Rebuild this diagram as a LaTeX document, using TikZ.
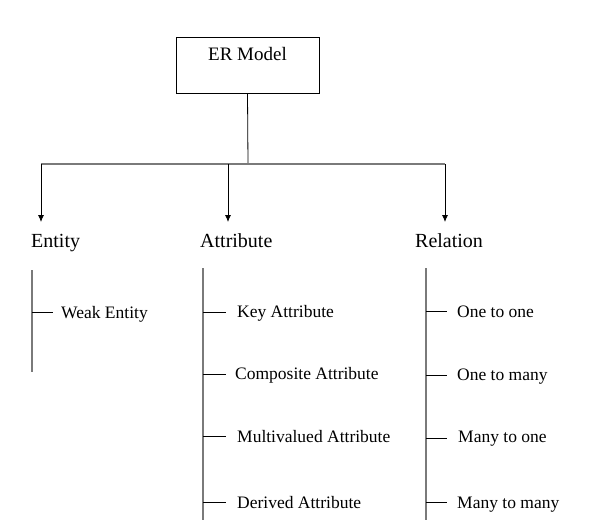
\documentclass[tikz,border=0pt]{standalone}
\usepackage{fontspec}
\setmainfont{Liberation Serif}
\usepackage{xcolor}
\usetikzlibrary{arrows.meta}
\definecolor{treec}{HTML}{7A7A7A}
\tikzset{
  rootbox/.style={draw, line width=0.8pt, anchor=north, inner sep=0pt, minimum width=143pt, text height=23pt, text depth=33pt, font=\fontsize{19}{23}\selectfont},
  head/.style={anchor=base west, inner sep=0pt, font=\fontsize{20}{24}\selectfont},
  leaf/.style={anchor=base west, inner sep=0pt, font=\fontsize{17.5}{21}\selectfont},
  stem/.style={draw=black, line width=0.8pt},
  trunk/.style={draw=treec, line width=1.1pt},
  spine/.style={draw=treec, line width=1.3pt},
  twig/.style={draw=black, line width=0.8pt},
  down/.style={draw=black, line width=0.8pt, -{Latex[length=7pt,width=6pt]}},
}

\begin{document}
\begin{tikzpicture}[x=1pt,y=-1pt]
\useasboundingbox (0,0) rectangle (604,520);
\node[rootbox] (er) at (247.5,37) {ER Model};
\coordinate (j0) at (248,164);
\coordinate (jent) at (41,164);
\coordinate (jatt) at (228,164);
\coordinate (jrel) at (445,164);
\coordinate (tent) at (41,222);
\coordinate (tatt) at (228,222);
\coordinate (trel) at (445,222);
\draw[stem] (er.south) -- (j0);
\draw[trunk] (jent) -- (jrel);
\draw[down] (jent) -- (tent);
\draw[down] (jatt) -- (tatt);
\draw[down] (jrel) -- (trel);
\node[head] (entity) at (31,247) {Entity};
\node[head] (attribute) at (200,247) {Attribute};
\node[head] (relation) at (415,247) {Relation};
% entity branch
\coordinate (sent) at (32,270);
\coordinate (eent) at (32,372);
\draw[spine] (sent) -- (eent);
\node[leaf] (weak) at (61,318) {Weak Entity};
\coordinate (kweak) at (32,312);
\draw[twig] (kweak) -- ++(21,0);
% attribute branch
\coordinate (satt) at (203,268);
\coordinate (eatt) at (203,520);
\draw[spine] (satt) -- (eatt);
\node[leaf] (keyatt) at (237,317) {Key Attribute};
\node[leaf] (compatt) at (235,379) {Composite Attribute};
\node[leaf] (multatt) at (237,442) {Multivalued Attribute};
\node[leaf] (deratt) at (237,508) {Derived Attribute};
\coordinate (kkey) at (203,312);
\coordinate (kcomp) at (203,374);
\coordinate (kmult) at (203,436);
\coordinate (kder) at (203,502);
\draw[twig] (kkey) -- ++(23,0);
\draw[twig] (kcomp) -- ++(23,0);
\draw[twig] (kmult) -- ++(23,0);
\draw[twig] (kder) -- ++(23,0);
% relation branch
\coordinate (srel) at (426,268);
\coordinate (erel) at (426,520);
\draw[spine] (srel) -- (erel);
\node[leaf] (oneone) at (457,317) {One to one};
\node[leaf] (onemany) at (457,380) {One to many};
\node[leaf] (manyone) at (458,442) {Many to one};
\node[leaf] (manymany) at (457,508) {Many to many};
\coordinate (koo) at (426,311);
\coordinate (kom) at (426,375);
\coordinate (kmo) at (426,438);
\coordinate (kmm) at (426,502);
\draw[twig] (koo) -- ++(21,0);
\draw[twig] (kom) -- ++(21,0);
\draw[twig] (kmo) -- ++(21,0);
\draw[twig] (kmm) -- ++(21,0);
\end{tikzpicture}
\end{document}
